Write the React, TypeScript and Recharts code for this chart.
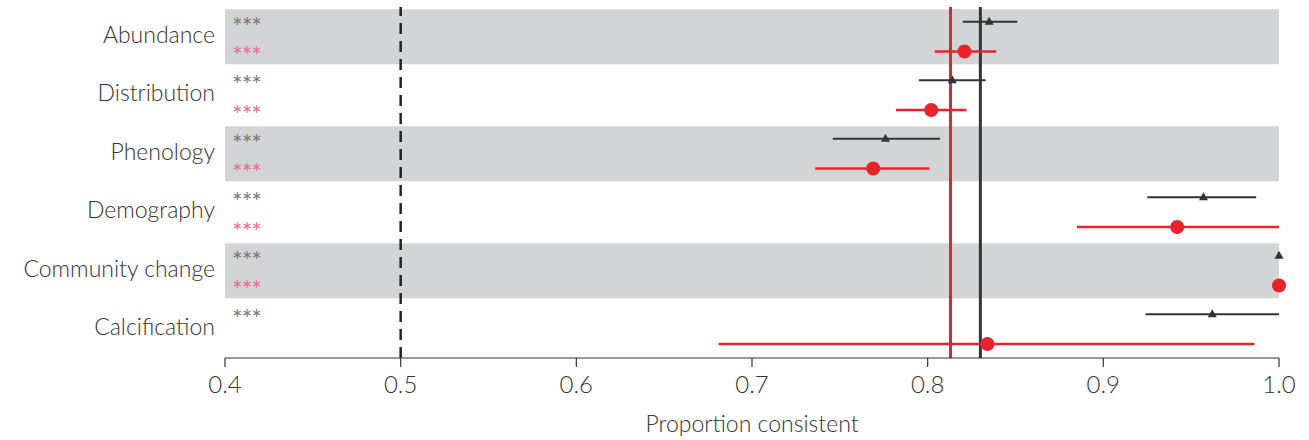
import {
  ComposedChart, Scatter, ErrorBar, XAxis, YAxis, ReferenceArea, ReferenceLine,
} from "recharts";

const categories = [
  "Abundance", "Distribution", "Phenology", "Demography", "Community change", "Calcification",
];

// black series (triangles): estimate, lower, upper
const blackMean = [0.835, 0.814, 0.776, 0.957, 1.0, 0.962];
const blackLow = [0.82, 0.795, 0.746, 0.925, 1.0, 0.924];
const blackHigh = [0.851, 0.833, 0.807, 0.987, 1.0, 1.0];

// red series (circles)
const redMean = [0.821, 0.802, 0.769, 0.942, 1.0, 0.834];
const redLow = [0.804, 0.782, 0.736, 0.885, 1.0, 0.681];
const redHigh = [0.839, 0.822, 0.801, 1.0, 1.0, 0.986];

const blackStars = ["***", "***", "***", "***", "***", "***"];
const redStars = ["***", "***", "***", "***", "***", ""];

const blackOverall = 0.83;
const redOverall = 0.813;
const nullLine = 0.5;
const xTicks = [0.4, 0.5, 0.6, 0.7, 0.8, 0.9, 1.0];

const FONT = "Lato, 'Open Sans', sans-serif";
const RED = "#e8232b";
const DARK = "#333";
const BAND = "#d3d4d5";

const blackData = categories.map((c, i) => ({
  x: blackMean[i], y: i + 0.25, err: [blackMean[i] - blackLow[i], blackHigh[i] - blackMean[i]],
}));
const redData = categories.map((c, i) => ({
  x: redMean[i], y: i + 0.76, err: [redMean[i] - redLow[i], redHigh[i] - redMean[i]],
}));
const blackStarData = blackStars.map((s, i) => ({ x: 0.4, y: i + 0.25, s }));
const redStarData = redStars.map((s, i) => ({ x: 0.4, y: i + 0.76, s }));

const Triangle = (p: any) => (
  <path d={`M${p.cx},${p.cy - 5} L${p.cx + 4.5},${p.cy + 3} L${p.cx - 4.5},${p.cy + 3} Z`} fill={DARK} />
);
const Dot = (p: any) => <circle cx={p.cx} cy={p.cy} r={7} fill={RED} />;
const starShape = (color: string) => (p: any) => (
  <text x={p.cx + 7} y={p.cy + 14} fill={color} fontSize={25} fontFamily={FONT} letterSpacing={-1}>
    {p.payload.s}
  </text>
);

export default function App() {
  return (
    <div style={{ position: "absolute", left: 0, top: 0, background: "#fff" }}>
      <ComposedChart width={1309} height={440} margin={{ top: 7, right: 30, bottom: 0, left: 0 }}>
        <XAxis
          type="number" dataKey="x" domain={[0.4, 1.0]} ticks={xTicks}
          tickFormatter={(v: number) => v.toFixed(1)}
          tick={{ fontSize: 24, fill: DARK, fontFamily: FONT, fontWeight: 300 }}
          axisLine={{ stroke: DARK, strokeWidth: 1.2 }}
          tickLine={{ stroke: DARK, strokeWidth: 1.2 }}
          tickSize={9} tickMargin={9} height={82}
          label={{ value: "Proportion consistent", position: "insideBottom", offset: 8,
                   fontSize: 23, fill: DARK, fontFamily: FONT, fontWeight: 300 }}
        />
        <YAxis
          type="number" dataKey="y" domain={[0, 6]} reversed width={225}
          ticks={categories.map((c, i) => i + 0.47)}
          tickFormatter={(v: number) => categories[Math.floor(v)]}
          tick={{ fontSize: 23, fill: DARK, fontFamily: FONT, fontWeight: 300 }}
          axisLine={false} tickLine={false} tickMargin={4}
        />
        {categories.map((c, i) => (i % 2 === 0 ? (
          <ReferenceArea key={c} x1={0.4} x2={1.0} y1={i + 0.04} y2={i + 0.98}
                         fill={BAND} fillOpacity={1} stroke="none" />
        ) : null))}
        <ReferenceLine x={nullLine} stroke="#222" strokeWidth={2.5} strokeDasharray="11 7" />
        <ReferenceLine x={redOverall} stroke={RED} strokeWidth={3} />
        <ReferenceLine x={blackOverall} stroke={DARK} strokeWidth={3} />
        <Scatter data={blackStarData} shape={starShape("#7a7a7a")} isAnimationActive={false} />
        <Scatter data={redStarData} shape={starShape("#e66f93")} isAnimationActive={false} />
        <Scatter data={blackData} shape={Triangle} isAnimationActive={false}>
          <ErrorBar dataKey="err" direction="x" width={0} stroke={DARK} strokeWidth={2} />
        </Scatter>
        <Scatter data={redData} shape={Dot} isAnimationActive={false}>
          <ErrorBar dataKey="err" direction="x" width={0} stroke={RED} strokeWidth={2.5} />
        </Scatter>
      </ComposedChart>
    </div>
  );
}
